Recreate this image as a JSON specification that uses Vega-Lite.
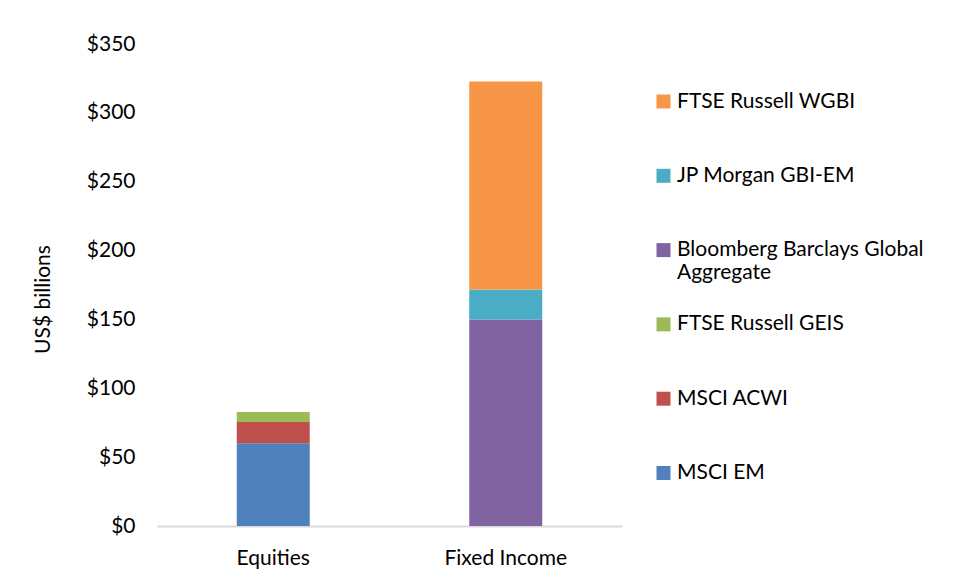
{
  "$schema": "https://vega.github.io/schema/vega-lite/v6.json",
  "autosize": "none",
  "width": 465,
  "height": 482,
  "padding": {"left": 157, "top": 44, "right": 334, "bottom": 56},
  "background": "white",
  "config": {"font": "Lato", "view": {"stroke": null}},
  "data": {
    "values": [
      {"category": "Equities", "index": "MSCI EM", "value": 60},
      {"category": "Equities", "index": "MSCI ACWI", "value": 15.5},
      {"category": "Equities", "index": "FTSE Russell GEIS", "value": 7.3},
      {"category": "Fixed Income", "index": "Bloomberg Barclays Global Aggregate", "value": 150},
      {"category": "Fixed Income", "index": "JP Morgan GBI-EM", "value": 21.7},
      {"category": "Fixed Income", "index": "FTSE Russell WGBI", "value": 151}
    ]
  },
  "transform": [
    {"calculate": "indexof(['MSCI EM','MSCI ACWI','FTSE Russell GEIS','Bloomberg Barclays Global Aggregate','JP Morgan GBI-EM','FTSE Russell WGBI'], datum.index)", "as": "stackOrder"}
  ],
  "mark": {"type": "bar"},
  "encoding": {
    "x": {
      "field": "category",
      "type": "nominal",
      "scale": {"paddingInner": 0.686, "paddingOuter": 0.343},
      "axis": {
        "title": null,
        "labelAngle": 0,
        "labelFontSize": 21,
        "labelColor": "#000000",
        "labelPadding": 21,
        "domainColor": "#d9d9d9",
        "domainWidth": 2,
        "ticks": false,
        "tickSize": 0
      }
    },
    "y": {
      "field": "value",
      "type": "quantitative",
      "stack": "zero",
      "scale": {"domain": [0, 350]},
      "axis": {
        "values": [0, 50, 100, 150, 200, 250, 300, 350],
        "format": "$,.0f",
        "grid": false,
        "domain": false,
        "ticks": false,
        "tickSize": 0,
        "labelPadding": 22,
        "labelFontSize": 21,
        "labelColor": "#000000",
        "title": "US$ billions",
        "titleFontSize": 21,
        "titleFontWeight": "normal",
        "titleColor": "#000000",
        "titleAngle": -90,
        "titleX": -114,
        "titleY": 255,
        "titleAlign": "center",
        "titleBaseline": "middle"
      }
    },
    "color": {
      "field": "index",
      "type": "nominal",
      "scale": {
        "domain": ["FTSE Russell WGBI", "JP Morgan GBI-EM", "Bloomberg Barclays Global Aggregate", "FTSE Russell GEIS", "MSCI ACWI", "MSCI EM"],
        "range": ["#F79646", "#4BACC6", "#8064A2", "#9BBB59", "#C0504D", "#4F81BD"]
      },
      "legend": {
        "title": null,
        "orient": "none",
        "legendX": 496,
        "legendY": 47,
        "symbolType": "square",
        "symbolSize": 196,
        "symbolStrokeWidth": 0,
        "labelFontSize": 21,
        "labelColor": "#000000",
        "labelLimit": 400,
        "labelOffset": 3,
        "gridAlign": "all",
        "rowPadding": 29.3,
        "labelExpr": "datum.label == 'Bloomberg Barclays Global Aggregate' ? ['Bloomberg Barclays Global', 'Aggregate'] : datum.label"
      }
    },
    "order": {"field": "stackOrder", "type": "quantitative"}
  }
}
